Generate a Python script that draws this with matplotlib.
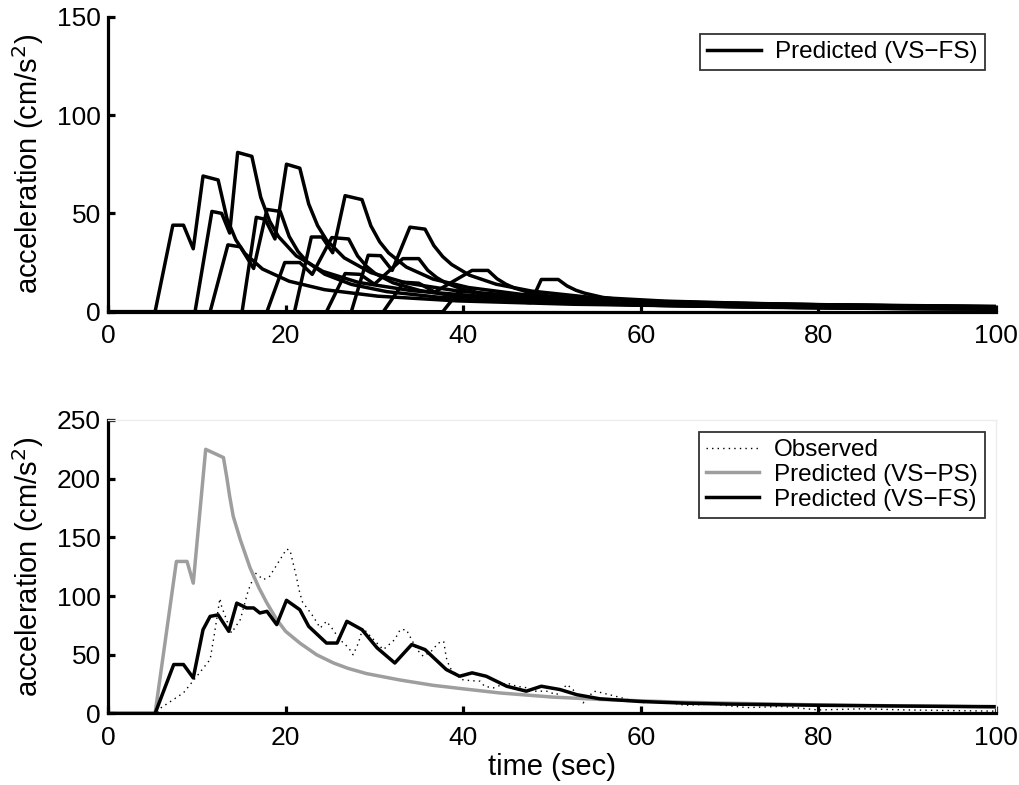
import matplotlib
matplotlib.use("Agg")
import matplotlib.pyplot as plt

plt.rcParams["font.family"] = ["Liberation Sans", "DejaVu Sans"]

# ---- top panel: sub-source envelopes (VS-FS), (time, acceleration) vertices ----
curve_a = [(5.3, 0), (7.3, 44), (8.5, 44), (9.6, 32), (10.7, 69), (12.4, 67),
           (13.4, 47.3), (14.4, 36.5), (15.4, 29.7), (17.4, 21.7), (20.4, 15.5),
           (24.4, 11.2), (30.4, 7.9), (39.4, 5.5), (52.4, 3.8), (72.4, 2.5), (100, 1.8)]
curve_b = [(9.8, 0), (11.7, 51), (12.8, 50), (13.7, 40), (14.6, 81), (16.2, 79),
           (17.2, 58.2), (18.2, 46.1), (19.2, 38.2), (21.2, 28.4), (24.2, 20.5),
           (28.2, 14.9), (34.2, 10.7), (43.2, 7.4), (56.2, 5.1), (76.2, 3.6), (100, 2.6)]
curve_c = [(11.5, 0), (13.5, 34), (14.9, 33), (16.4, 22), (17.9, 52), (19.4, 51),
           (20.4, 38.3), (21.4, 30.6), (22.4, 25.5), (24.4, 19.1), (27.4, 13.9),
           (31.4, 10.2), (37.4, 7.3), (46.4, 5.1), (59.4, 3.6), (79.4, 2.4), (100, 1.85)]
curve_d = [(15.1, 0), (16.7, 48), (17.7, 47), (18.8, 37), (20.1, 75), (21.6, 73),
           (22.6, 54.8), (23.6, 43.8), (24.6, 36.5), (26.6, 27.4), (29.6, 19.9),
           (33.6, 14.6), (39.6, 10.4), (48.6, 7.3), (61.6, 5.1), (81.6, 3.5), (100, 2.7)]
curve_e = [(17.9, 0), (19.9, 25), (21.6, 25), (23.0, 19), (25.2, 37.7), (27.1, 37),
           (28.1, 28.4), (29.1, 23.1), (30.1, 19.4), (32.1, 14.7), (35.1, 10.8),
           (39.1, 8.0), (45.1, 5.7), (54.1, 4.0), (67.1, 2.8), (87.1, 1.9), (100, 1.6)]
curve_f = [(21.0, 0), (22.9, 38), (24.1, 38), (25.3, 30), (26.7, 59), (28.6, 57),
           (29.6, 43.7), (30.6, 35.5), (31.6, 29.9), (33.6, 22.7), (36.6, 16.6),
           (40.6, 12.3), (46.6, 8.8), (55.6, 6.2), (68.6, 4.3), (88.6, 3.0), (100, 2.5)]
curve_g = [(24.6, 0), (26.7, 19.4), (28.4, 19), (30.0, 14), (33.2, 27), (35.0, 27),
           (36.0, 21.1), (37.0, 17.4), (38.0, 14.7), (40.0, 11.3), (43.0, 8.4),
           (47.0, 6.2), (53.0, 4.5), (62.0, 3.2), (75.0, 2.2), (95.0, 1.5), (100, 1.4)]
curve_h = [(27.4, 0), (29.3, 28.7), (30.7, 28.5), (32.0, 21), (34.0, 43), (35.7, 42),
           (36.7, 33.6), (37.7, 28), (38.7, 24), (40.7, 18.6), (43.7, 14),
           (47.7, 10.5), (53.7, 7.6), (62.7, 5.4), (75.7, 3.8), (95.7, 2.6), (100, 2.4)]
curve_i = [(31.0, 0), (33.3, 15), (35.0, 14.5), (36.8, 10), (41.0, 21), (42.8, 21),
           (43.8, 16.8), (44.8, 14), (45.8, 12), (47.8, 9.3), (50.8, 7),
           (54.8, 5.25), (60.8, 3.8), (69.8, 2.7), (82.8, 1.9), (100, 1.4)]
curve_j = [(37.7, 0), (39.6, 10.9), (40.8, 10.9), (42.8, 7), (44.8, 5.5), (47.6, 4.6),
           (48.8, 16.4), (50.7, 16.4), (51.7, 13.1), (52.7, 10.9), (53.7, 9.4),
           (55.7, 7.3), (58.7, 5.5), (62.7, 4.1), (68.7, 3.0), (77.7, 2.1),
           (90.7, 1.5), (100, 1.25)]

sub_sources = [curve_a, curve_b, curve_c, curve_d, curve_e, curve_f,
               curve_g, curve_h, curve_i, curve_j]

# ---- bottom panel ----
obs_t = [0, 5.5, 6.0, 8.5, 10.0, 11.5, 12.0, 12.6, 12.8, 13.9, 14.9, 15.8, 16.6, 17.5,
         18.2, 19.6, 20.1, 20.5, 21.2, 21.6, 21.9, 23.1, 23.9, 24.6, 25.2, 26.1, 27.1,
         27.6, 28.2, 28.7, 29.9, 31.0, 32.3, 32.9, 33.6, 33.9, 34.8, 35.5, 36.4, 37.2,
         37.8, 38.1, 38.5, 39.8, 40.8, 41.9, 42.4, 43.4, 44.9, 46.0, 47.1, 47.9, 49.4,
         50.5, 51.7, 52.4, 53.5, 54.7, 55.4, 57.0, 58.5, 60.0, 62.0, 65.0, 68.0, 72.0,
         76.0, 80.0, 85.0, 90.0, 95.0, 100.0]
obs_a = [0, 0, 5, 17.6, 31.7, 46, 68.6, 98, 91, 68.6, 80, 105, 119.6, 114,
         116.8, 133.8, 140, 139, 116.8, 102.6, 95, 82.7, 72.8, 78.5, 72.8, 63, 55.9,
         50, 60, 72.8, 63, 54.4, 63, 71.4, 71.4, 67, 54.4, 48.7, 53, 60,
         61.5, 47.4, 38.9, 28.9, 28, 27.5, 23.2, 21.8, 26, 23.2, 22, 19, 19,
         16, 24.7, 20, 9, 19, 18, 15, 12, 9, 11, 7, 8, 5,
         6, 3, 4, 3, 2.5, 2]

ps_t = [0, 5.3, 7.7, 8.9, 9.6, 11.0, 13.0, 13.4, 13.7, 14.1, 14.9, 16.0, 17.0, 17.9,
        19.0, 20.0, 21.6, 23.5, 25.4, 27.0, 29.1, 32.9, 36.6, 40.0, 44.1, 50.0, 55.4,
        65.0, 80.0, 100.0]
ps_a = [0, 0, 129.5, 129.5, 111, 225, 218, 200, 185, 168, 148, 124, 107, 94,
        80, 70, 60, 50, 43, 38.5, 34, 28.5, 24, 21, 17.5, 14, 12,
        9.5, 7.3, 5.5]

fs_t = [0, 5.3, 7.4, 8.5, 9.6, 10.7, 11.5, 12.4, 13.6, 14.5, 15.6, 16.4, 17.1, 17.9,
        19.0, 20.1, 21.6, 22.6, 24.6, 25.8, 26.9, 28.6, 30.3, 32.3, 34.2, 35.7, 38.1,
        39.6, 41.0, 42.6, 44.9, 47.1, 48.8, 50.9, 52.8, 55.4, 60.0, 65.0, 70.0, 80.0,
        90.0, 100.0]
fs_a = [0, 0, 41.7, 41.7, 30.3, 71.4, 82.7, 84, 70, 94, 89.9, 89.9, 85.6, 87,
        75.7, 96.4, 88.4, 74.2, 60, 60, 78.5, 71.4, 55.9, 43, 58.7, 54.4, 37.4,
        31.7, 34.6, 31.7, 23.2, 19, 23.2, 20.4, 16, 12.5, 10.2, 8.8, 8.0, 7.0,
        6.3, 5.8]

xticks = [0, 20, 40, 60, 80, 100]
top_yticks = [0, 50, 100, 150]
bottom_yticks = [0, 50, 100, 150, 200, 250]

TICK_FS = 19
LABEL_FS = 21
LEGEND_FS = 17.5


def style_axes(ax, yticks):
    ax.set_xlim(0, 100)
    ax.set_xticks(xticks)
    ax.set_yticks(yticks)
    ax.set_ylim(yticks[0], yticks[-1])
    ax.spines["top"].set_visible(False)
    ax.spines["right"].set_visible(False)
    for side in ["left", "bottom"]:
        ax.spines[side].set_linewidth(2.3)
    ax.tick_params(direction="in", length=5, width=2.3, labelsize=TICK_FS)
    ax.tick_params(axis="x", pad=9)
    ax.tick_params(axis="y", pad=5)
    ax.set_ylabel("acceleration (cm/s$^2$)", fontsize=LABEL_FS)
    ax.yaxis.set_label_coords(-0.07, 0.5)


def add_legend(ax, top):
    leg = ax.legend(loc="upper right", bbox_to_anchor=(0.9876, top), borderaxespad=0,
                    fontsize=LEGEND_FS, frameon=True, fancybox=False, edgecolor="black",
                    handlelength=2.2, handletextpad=0.6, borderpad=0.3,
                    labelspacing=0.12)
    leg.get_frame().set_linewidth(1.3)
    return leg


fig = plt.figure(figsize=(10.19, 7.85), dpi=100)

ax1 = fig.add_axes([0.1060, 0.6029, 0.8714, 0.3758])
for i, curve in enumerate(sub_sources):
    ts = [p[0] for p in curve]
    acc = [p[1] for p in curve]
    ax1.plot([0] + ts, [0] + acc, color="black", lw=2.5,
             label="Predicted (VS\u2212FS)" if i == 0 else None)
style_axes(ax1, top_yticks)
add_legend(ax1, 0.942)

ax2 = fig.add_axes([0.1060, 0.0911, 0.8714, 0.3739])
ax2.plot(obs_t, obs_a, color="black", lw=1.0, linestyle=(0, (1, 3)), label="Observed")
ax2.plot(ps_t, ps_a, color="0.62", lw=2.5, label="Predicted (VS\u2212PS)")
ax2.plot(fs_t, fs_a, color="black", lw=2.5, label="Predicted (VS\u2212FS)")
style_axes(ax2, bottom_yticks)
for side in ["top", "right"]:
    ax2.spines[side].set_visible(True)
    ax2.spines[side].set_color("0.93")
    ax2.spines[side].set_linewidth(1.0)
ax2.set_xlabel("time (sec)", fontsize=LABEL_FS, labelpad=2)
add_legend(ax2, 0.960)

fig.savefig("out.png", dpi=100)
